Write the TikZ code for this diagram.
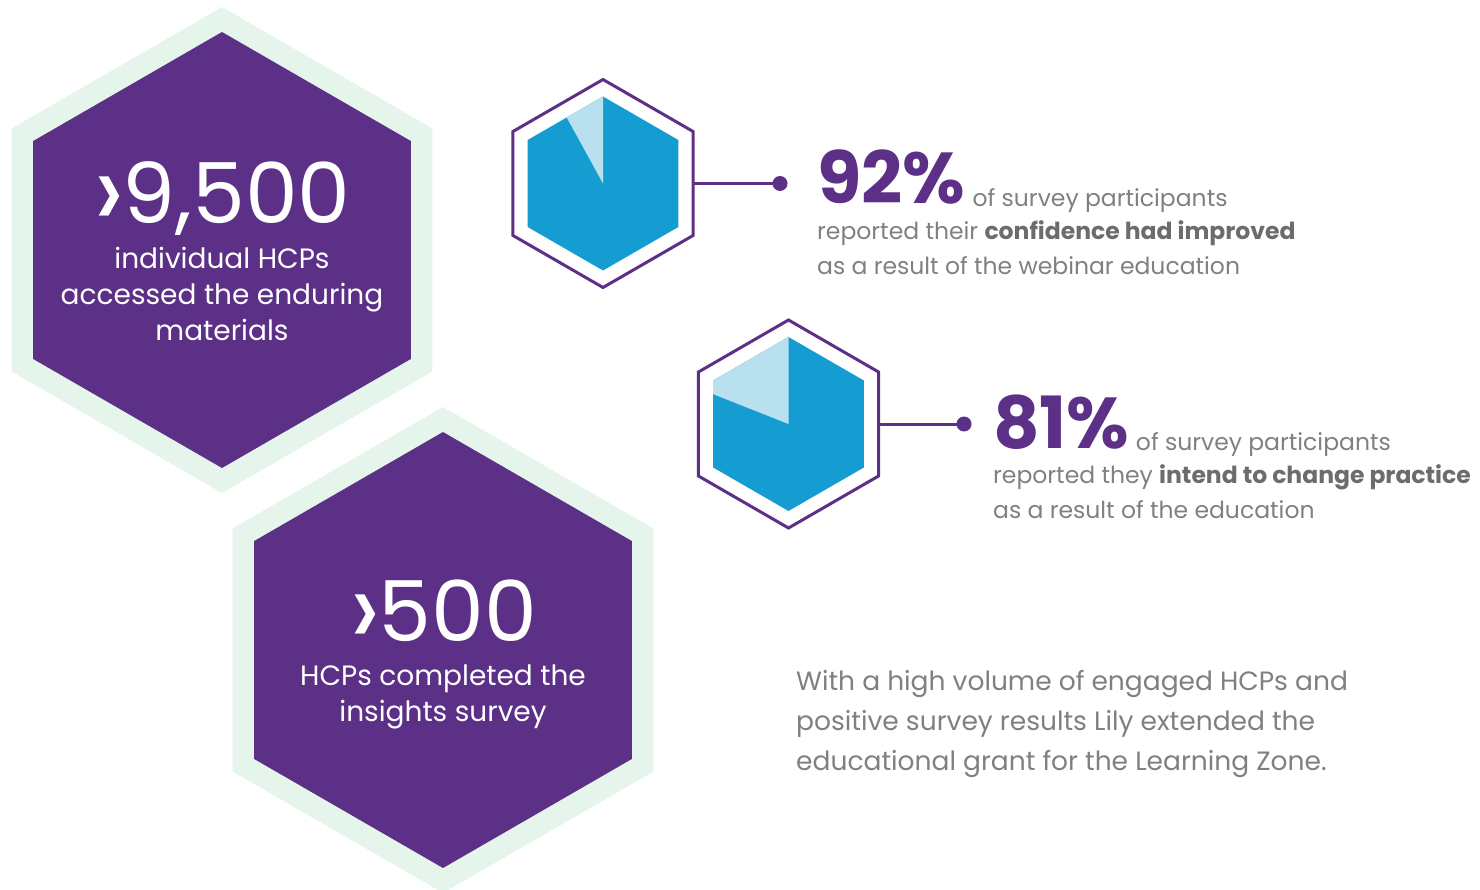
\documentclass[tikz,border=0pt]{standalone}
\usepackage{fontspec}
\setmainfont{Poppins}
\usetikzlibrary{positioning}

\definecolor{hcppurple}{RGB}{92,48,134}
\definecolor{hcpmint}{RGB}{229,245,236}
\definecolor{hcpblue}{RGB}{21,157,209}
\definecolor{hcplight}{RGB}{185,224,239}
\definecolor{hcpgray}{RGB}{128,128,128}
\definecolor{hcpdark}{RGB}{108,108,108}

% pointy-top hexagon round a named point
\newcommand{\hexagon}[2]{(#1) +(90:#2) -- +(150:#2) -- +(210:#2) -- +(270:#2) -- +(330:#2) -- +(30:#2) -- cycle}
% larger chevron in front of a number
\newcommand{\morethan}{{\fontsize{112}{112}\selectfont\raisebox{-6pt}{›}}\kern-2pt}

\tikzset{
  bignum/.style={text=white, font=\fontsize{84}{84}\selectfont, inner sep=0pt, text depth=0pt},
  hexlabel/.style={text=white, align=center, font=\fontsize{28}{36}\selectfont, inner sep=0pt},
  pctnum/.style={text=hcppurple, font=\bfseries\fontsize{72}{72}\selectfont, inner sep=0pt},
  pcttext/.style={text=hcpgray, align=left, font=\fontsize{23.5}{35}\selectfont, inner sep=0pt},
  link/.style={hcppurple, line width=3pt},
}

\begin{document}
\begin{tikzpicture}[x=1pt, y=-1pt]
    \useasboundingbox (0,0) rectangle (1480,890);
    \coordinate (hexBig) at (222,250);
    \coordinate (hexLow) at (443,650);
    \coordinate (hexA) at (603,183.5);
    \coordinate (hexB) at (788.5,424);

    % big purple hexagons
    \fill[hcpmint] \hexagon{hexBig}{243};
    \fill[hcpmint] \hexagon{hexLow}{243};
    \fill[hcppurple] \hexagon{hexBig}{218};
    \fill[hcppurple] \hexagon{hexLow}{218};

    % base of a multi-line node sits on its last line
    \node[bignum, anchor=base] (numBig) at (222,224) {\morethan 9,500};
    \node[hexlabel, anchor=base] (capBig) at (222,341) {individual HCPs\\accessed the enduring\\materials};
    \node[bignum, anchor=base] (numLow) at (443,641) {\morethan 500};
    \node[hexlabel, anchor=base] (capLow) at (443,721) {HCPs completed the\\insights survey};

    % small pie hexagons
    \draw[hcppurple, line width=3pt] \hexagon{hexA}{104};
    \draw[hcppurple, line width=3pt] \hexagon{hexB}{104};
    \fill[hcpblue] \hexagon{hexA}{87};
    \fill[hcpblue] \hexagon{hexB}{87};
    \begin{scope}
      \clip \hexagon{hexA}{87};
      \fill[hcplight] (hexA) -- +(270:200) -- +(241.2:200) -- cycle;
    \end{scope}
    \begin{scope}
      \clip \hexagon{hexB}{87};
      \fill[hcplight] (hexB) -- +(270:200) -- +(201.6:200) -- cycle;
    \end{scope}

    \coordinate (hexAe) at (693.5,183.5);
    \coordinate (dotA) at (780,183.5);
    \coordinate (hexBe) at (878.5,424);
    \coordinate (dotB) at (964,424);
    \draw[link] (hexAe) -- (dotA);
    \draw[link] (hexBe) -- (dotB);
    \fill[hcppurple] (dotA) circle (7.5);
    \fill[hcppurple] (dotB) circle (7.5);

    % survey results
    \node[pctnum, anchor=base west] (pctA) at (817,204) {92\%};
    \node[pcttext, anchor=base west, right=7pt of pctA.base east, yshift=3pt] (ofA) {of survey participants};
    \node[pcttext, anchor=base west] (txtA) at (817,275) {reported their \textbf{\color{hcpdark}confidence had improved}\\as a result of the webinar education};

    \node[pctnum, anchor=base west] (pctB) at (993,448) {81\%};
    \node[pcttext, anchor=base west, right=6pt of pctB.base east, yshift=3pt] (ofB) {of survey participants};
    \node[pcttext, anchor=base west] (txtB) at (993,518) {reported they \textbf{\color{hcpdark}intend to change practice}\\as a result of the education};

    \node[pcttext, anchor=base west, font=\fontsize{26.5}{40}\selectfont] (closing) at (796,770) {With a high volume of engaged HCPs and\\positive survey results Lily extended the\\educational grant for the Learning Zone.};
\end{tikzpicture}
\end{document}
